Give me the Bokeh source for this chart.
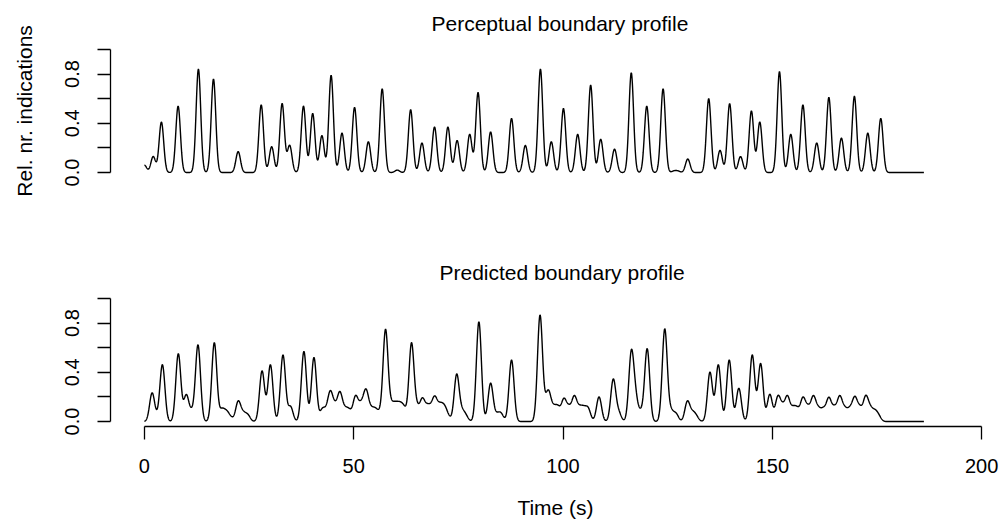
import numpy as np
from bokeh.plotting import figure
from bokeh.layouts import column
from bokeh.models import FixedTicker, Title
from bokeh.embed import file_html
from bokeh.resources import INLINE

FONT = "Liberation Sans"

# ---- data: boundary peaks (time in s, relative height)
perc_t = [0.0, 2.1, 4.06, 8.05, 12.9, 16.5, 22.4, 27.9, 30.4, 32.9, 34.7, 38.0,
          40.2, 42.4, 44.6, 47.2, 50.2, 53.5, 56.8, 60.4, 63.6, 66.3, 69.3, 72.5,
          74.7, 77.7, 79.7, 82.7, 87.7, 91.0, 94.6, 97.2, 100.1, 103.5, 106.6,
          109.0, 112.3, 116.3, 120.0, 123.9, 126.5, 127.4, 129.8, 134.8, 137.5,
          139.8, 142.4, 145.0, 147.0, 151.7, 154.4, 157.3, 160.6, 163.5, 166.5,
          169.6, 172.8, 175.9]
perc_h = [0.06, 0.13, 0.41, 0.54, 0.84, 0.76, 0.17, 0.55, 0.21, 0.56, 0.22, 0.54,
          0.48, 0.30, 0.79, 0.32, 0.53, 0.25, 0.68, 0.02, 0.51, 0.24, 0.37, 0.37,
          0.26, 0.31, 0.65, 0.33, 0.44, 0.22, 0.84, 0.25, 0.52, 0.31, 0.71,
          0.27, 0.19, 0.81, 0.54, 0.68, 0.012, 0.012, 0.11, 0.60, 0.18,
          0.56, 0.13, 0.50, 0.41, 0.82, 0.31, 0.55, 0.24, 0.61, 0.28,
          0.62, 0.32, 0.44]

pred_t = [1.84, 3.0, 4.3, 8.1, 10.0, 11.3, 12.8, 16.7, 18.5, 19.6, 20.6, 22.4,
          23.6, 24.7, 28.1, 30.1, 33.1, 34.9, 38.1, 40.5, 42.5, 43.4, 44.4, 45.5,
          46.7, 47.9, 48.9, 50.4, 51.5, 52.2, 53.0, 54.2, 55.2, 56.2, 57.6, 59.0,
          60.0, 61.0, 62.0, 63.8, 65.1, 66.4, 67.6, 68.5, 69.4, 70.6, 71.6, 72.5,
          74.6, 75.9, 76.8, 79.9, 82.7, 84.2, 85.2, 87.7, 94.5, 95.9, 96.6, 97.8,
          98.8, 100.2, 101.4, 102.7, 103.9, 104.9, 106.0, 108.6, 112.0, 113.3,
          116.3, 117.3, 118.6, 120.1, 124.3, 125.8, 127.0, 129.7, 130.9, 131.8,
          135.1, 137.1, 139.7, 142.0, 145.2, 147.2, 149.4, 151.3, 152.4, 153.6,
          154.9, 155.9, 157.3, 158.5, 159.8, 161.0, 162.2, 163.5, 164.8, 166.1,
          167.3, 168.5, 169.7, 170.9, 172.3, 173.4, 174.5, 175.4]
pred_h = [0.23, 0.02, 0.46, 0.55, 0.21, 0.07, 0.62, 0.64, 0.09, 0.07, 0.03, 0.16,
          0.06, 0.05, 0.41, 0.46, 0.54, 0.12, 0.57, 0.52, 0.09, 0.05, 0.22, 0.10,
          0.22, 0.08, 0.08, 0.19, 0.09, 0.07, 0.22, 0.08, 0.08, 0.05, 0.74, 0.11,
          0.11, 0.11, 0.10, 0.63, 0.10, 0.17, 0.10, 0.07, 0.17, 0.11, 0.10, 0.04,
          0.38, 0.07, 0.04, 0.81, 0.31, 0.05, 0.06, 0.50, 0.86, 0.08, 0.20, 0.09,
          0.10, 0.17, 0.10, 0.19, 0.09, 0.09, 0.10, 0.20, 0.34, 0.07,
          0.54, 0.17, 0.07, 0.59, 0.75, 0.08, 0.06, 0.16, 0.06, 0.04,
          0.40, 0.46, 0.50, 0.27, 0.54, 0.47, 0.22, 0.19, 0.10, 0.19,
          0.09, 0.09, 0.18, 0.10, 0.19, 0.09, 0.09, 0.18, 0.10, 0.19,
          0.09, 0.09, 0.18, 0.10, 0.19, 0.09, 0.07, 0.04]

time_end = 186.2
x_ticks = [0, 50, 100, 150, 200]
y_ticks = [0, 0.2, 0.4, 0.6, 0.8, 1.0]
y_tick_labels = {0: "0.0", 0.2: "", 0.4: "0.4", 0.6: "", 0.8: "0.8", 1.0: ""}
titles = ["Perceptual boundary profile", "Predicted boundary profile"]


def profile(centers, heights, sigma):
    t = np.arange(0.0, time_end + 1e-9, 0.05)
    y = np.zeros_like(t)
    for c, h in zip(centers, heights):
        y += h * np.exp(-(t - c) ** 2 / (2 * sigma ** 2))
    return t, y


def style_y(p, label):
    ax = p.yaxis[0]
    ax.ticker = FixedTicker(ticks=y_ticks, minor_ticks=[])
    ax.major_label_overrides = y_tick_labels
    ax.bounds = (0, 1)
    ax.major_label_orientation = "vertical"
    ax.major_tick_out = 13
    ax.major_tick_in = 0
    ax.minor_tick_out = 0
    ax.minor_tick_in = 0
    ax.axis_line_width = 1.3
    ax.major_tick_line_width = 1.3
    ax.axis_line_color = "black"
    ax.major_tick_line_color = "black"
    ax.major_label_text_font = FONT
    ax.major_label_text_font_size = "20px"
    ax.major_label_text_color = "black"
    ax.major_label_standoff = 18
    if label:
        ax.axis_label = label
        ax.axis_label_text_font = FONT
        ax.axis_label_text_font_size = "21px"
        ax.axis_label_text_font_style = "normal"
        ax.axis_label_text_color = "black"
        ax.axis_label_standoff = 27


def base_fig(h, top, bottom, xloc, title, title_offset):
    p = figure(width=1000, height=h, x_range=(-8.1, 204.5), y_range=(-0.04, 1.04),
               output_backend="svg", toolbar_location=None,
               x_axis_location=xloc, min_border_left=110, min_border_right=0,
               min_border_top=top, min_border_bottom=bottom)
    p.title = Title(text=title, align="left", offset=title_offset, standoff=19,
                    text_font=FONT, text_font_size="21px",
                    text_font_style="normal", text_color="black")
    p.outline_line_color = None
    p.xgrid.visible = False
    p.ygrid.visible = False
    p.background_fill_color = "white"
    p.border_fill_color = "white"
    return p


# ---- top panel
p1 = base_fig(235, 44, 58, None, titles[0], 321)
t1, y1 = profile(perc_t, perc_h, 0.55)
p1.line(t1, y1, line_color="black", line_width=1.4)
style_y(p1, "Rel. nr. indications")

# ---- bottom panel
p2 = base_fig(297, 58, 106, "below", titles[1], 329)
t2, y2 = profile(pred_t, pred_h, 0.6)
p2.line(t2, y2, line_color="black", line_width=1.4)
style_y(p2, None)
xa = p2.xaxis[0]
xa.ticker = FixedTicker(ticks=x_ticks, minor_ticks=[])
xa.bounds = (0, 200)
xa.major_tick_out = 13
xa.major_tick_in = 0
xa.axis_line_width = 1.3
xa.major_tick_line_width = 1.3
xa.axis_line_color = "black"
xa.major_tick_line_color = "black"
xa.major_label_text_font = FONT
xa.major_label_text_font_size = "20px"
xa.major_label_text_color = "black"
xa.major_label_standoff = 19
xa.axis_label = "Time (s)"
xa.axis_label_text_font = FONT
xa.axis_label_text_font_size = "21px"
xa.axis_label_text_font_style = "normal"
xa.axis_label_text_color = "black"
xa.axis_label_standoff = 20

layout = column(p1, p2, spacing=0)
open("out.html", "w").write(file_html(layout, INLINE))
